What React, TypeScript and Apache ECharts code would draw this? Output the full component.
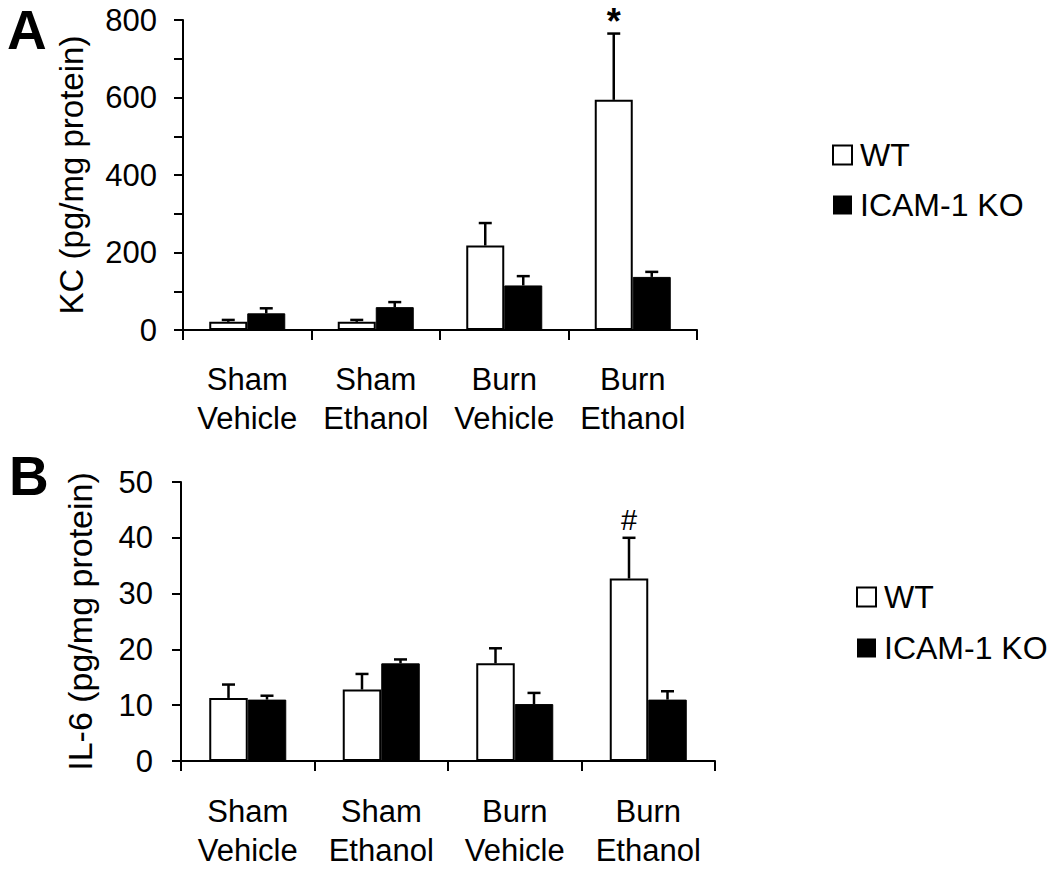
import React, { useEffect, useRef } from "react";
import * as echarts from "echarts";

const categories = ["Sham\nVehicle", "Sham\nEthanol", "Burn\nVehicle", "Burn\nEthanol"];
const seriesNames = ["WT", "ICAM-1 KO"];

// Panel A: KC (pg/mg protein)
const kcWT = [21, 21, 218, 594];
const kcWTErr = [5, 5, 58, 171];
const kcKO = [43, 59, 115, 137];
const kcKOErr = [13, 13, 24, 13];
const kcMarks = ["", "", "", "*"];
const kcTicks = [0, 200, 400, 600, 800];

// Panel B: IL-6 (pg/mg protein)
const il6WT = [11.3, 12.8, 17.5, 32.7];
const il6WTErr = [2.4, 2.8, 2.7, 7.3];
const il6KO = [11.0, 17.5, 10.2, 11.0];
const il6KOErr = [0.7, 0.7, 2.0, 1.5];
const il6Marks = ["", "", "", "#"];
const il6Ticks = [0, 10, 20, 30, 40, 50];

const FONT = "'Liberation Sans', Arial, Helvetica, sans-serif";

export default function App() {
  const ref = useRef<HTMLDivElement>(null);

  useEffect(() => {
    if (!ref.current) return;
    const chart = echarts.init(ref.current, undefined, { renderer: "svg" });

    const barWA = 38;
    const barWB = 38.5;

    const markStyle: Record<string, { size: number; weight: string; dy: number }> = {
      "*": { size: 36, weight: "bold", dy: 12 },
      "#": { size: 29, weight: "normal", dy: 18 },
    };

    const errRender = (sign: number, barW: number, marks: string[]) => (params: any, api: any) => {
      const i = api.value(0);
      const m = api.value(1);
      const e = api.value(2);
      const base = api.coord([i, m]);
      const top = api.coord([i, m + e]);
      const x = base[0] + (sign * barW) / 2;
      const children: any[] = [
        { type: "line", shape: { x1: x, y1: base[1], x2: x, y2: top[1] }, style: { stroke: "#000", lineWidth: 2.5 } },
        { type: "line", shape: { x1: x - 6.5, y1: top[1], x2: x + 6.5, y2: top[1] }, style: { stroke: "#000", lineWidth: 2.5 } },
      ];
      const mk = marks[params.dataIndex];
      if (mk) {
        const st = markStyle[mk];
        children.push({
          type: "text",
          x,
          y: top[1] - st.dy,
          style: {
            text: mk,
            fontSize: st.size,
            fontWeight: st.weight,
            fontFamily: FONT,
            fill: "#000",
            align: "center",
            verticalAlign: "middle",
          },
        });
      }
      return { type: "group", children };
    };

    const errData = (vals: number[], errs: number[]) => vals.map((v, i) => [i, v, errs[i]]);

    const xAxisCommon = {
      type: "category",
      data: categories,
      axisLine: { show: true, lineStyle: { color: "#000", width: 2 } },
      axisTick: { show: true, length: 10, lineStyle: { color: "#000", width: 2 } },
      axisLabel: { color: "#000", fontSize: 31, lineHeight: 39, fontFamily: FONT, interval: 0 },
      splitLine: { show: false },
    };

    const yAxisCommon = {
      type: "value",
      nameLocation: "middle",
      axisLine: { show: true, lineStyle: { color: "#000", width: 2 } },
      axisTick: { show: true, length: 9, lineStyle: { color: "#000", width: 2 } },
      splitLine: { show: false },
    };

    const legendCommon = {
      orient: "vertical",
      itemWidth: 19,
      itemHeight: 19,
      textStyle: { fontSize: 32, color: "#000", fontFamily: FONT, padding: [0, 0, 0, 3] },
      data: seriesNames.map((n, k) => ({
        name: n,
        icon: "rect",
        itemStyle: k === 0 ? { color: "#fff", borderColor: "#000", borderWidth: 2 } : { color: "#000", borderWidth: 0 },
      })),
    };

    const option: any = {
      animation: false,
      backgroundColor: "#fff",
      textStyle: { fontFamily: FONT },
      grid: [
        { left: 183, top: 20, width: 514, height: 310 },
        { left: 181, top: 482, width: 534, height: 279 },
      ],
      legend: [
        { ...legendCommon, left: 827, top: 134, itemGap: 18 },
        { ...legendCommon, left: 851, top: 576, itemGap: 19 },
      ],
      xAxis: [
        { ...xAxisCommon, gridIndex: 0, axisLabel: { ...xAxisCommon.axisLabel, margin: 30 } },
        { ...xAxisCommon, gridIndex: 1, axisLabel: { ...xAxisCommon.axisLabel, margin: 31 } },
      ],
      yAxis: [
        {
          ...yAxisCommon,
          gridIndex: 0,
          name: "KC (pg/mg protein)",
          nameGap: 95,
          nameTextStyle: { color: "#000", fontSize: 33, fontFamily: FONT },
          min: 0,
          max: 800,
          interval: 100,
          axisLabel: {
            color: "#000",
            fontSize: 31,
            fontFamily: FONT,
            margin: 26,
            formatter: (v: number) => (kcTicks.includes(v) ? String(v) : ""),
          },
        },
        {
          ...yAxisCommon,
          gridIndex: 1,
          name: "IL-6 (pg/mg protein)",
          nameGap: 84,
          nameTextStyle: { color: "#000", fontSize: 34, fontFamily: FONT },
          min: 0,
          max: 50,
          interval: 10,
          axisLabel: {
            color: "#000",
            fontSize: 31,
            fontFamily: FONT,
            margin: 28,
            formatter: (v: number) => (il6Ticks.includes(v) ? String(v) : ""),
          },
        },
      ],
      graphic: [
        {
          type: "text",
          x: 7,
          y: 30,
          style: { text: "A", fontSize: 55, fontWeight: "bold", fontFamily: FONT, fill: "#000", verticalAlign: "middle" },
        },
        {
          type: "text",
          x: 9,
          y: 476,
          style: { text: "B", fontSize: 55, fontWeight: "bold", fontFamily: FONT, fill: "#000", verticalAlign: "middle" },
        },
      ],
      series: [
        {
          name: "WT",
          type: "bar",
          xAxisIndex: 0,
          yAxisIndex: 0,
          data: kcWT,
          barWidth: barWA,
          barGap: "0%",
          itemStyle: { color: "#fff", borderColor: "#000", borderWidth: 2 },
        },
        {
          name: "ICAM-1 KO",
          type: "bar",
          xAxisIndex: 0,
          yAxisIndex: 0,
          data: kcKO,
          barWidth: barWA,
          barGap: "0%",
          itemStyle: { color: "#000", borderColor: "#000", borderWidth: 1 },
        },
        {
          type: "custom",
          xAxisIndex: 0,
          yAxisIndex: 0,
          renderItem: errRender(-1, barWA, kcMarks),
          data: errData(kcWT, kcWTErr),
          encode: { x: 0, y: 1 },
          z: 5,
        },
        {
          type: "custom",
          xAxisIndex: 0,
          yAxisIndex: 0,
          renderItem: errRender(1, barWA, []),
          data: errData(kcKO, kcKOErr),
          encode: { x: 0, y: 1 },
          z: 5,
        },
        {
          name: "WT",
          type: "bar",
          xAxisIndex: 1,
          yAxisIndex: 1,
          data: il6WT,
          barWidth: barWB,
          barGap: "0%",
          itemStyle: { color: "#fff", borderColor: "#000", borderWidth: 2 },
        },
        {
          name: "ICAM-1 KO",
          type: "bar",
          xAxisIndex: 1,
          yAxisIndex: 1,
          data: il6KO,
          barWidth: barWB,
          barGap: "0%",
          itemStyle: { color: "#000", borderColor: "#000", borderWidth: 1 },
        },
        {
          type: "custom",
          xAxisIndex: 1,
          yAxisIndex: 1,
          renderItem: errRender(-1, barWB, il6Marks),
          data: errData(il6WT, il6WTErr),
          encode: { x: 0, y: 1 },
          z: 5,
        },
        {
          type: "custom",
          xAxisIndex: 1,
          yAxisIndex: 1,
          renderItem: errRender(1, barWB, []),
          data: errData(il6KO, il6KOErr),
          encode: { x: 0, y: 1 },
          z: 5,
        },
      ],
    };

    chart.setOption(option);
    return () => chart.dispose();
  }, []);

  return (
    <div
      ref={ref}
      style={{ position: "fixed", left: 0, top: 0, width: 1050, height: 875, background: "#fff" }}
    />
  );
}
